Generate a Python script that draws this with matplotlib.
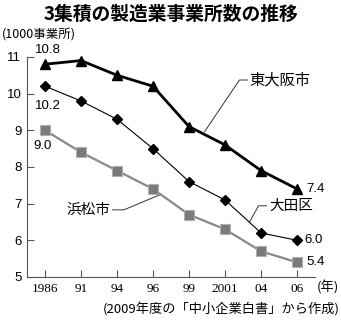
import matplotlib
matplotlib.use("Agg")
import matplotlib.pyplot as plt

plt.rcParams['font.family'] = ['Noto Sans CJK JP', 'DejaVu Sans']

years = ['1986', '91', '94', '96', '99', '2001', '04', '06']
higashiosaka = [10.8, 10.9, 10.5, 10.2, 9.1, 8.6, 7.9, 7.4]
ota = [10.2, 9.8, 9.3, 8.5, 7.6, 7.1, 6.2, 6.0]
hamamatsu = [9.0, 8.4, 7.9, 7.4, 6.7, 6.3, 5.7, 5.4]
yticks = [5, 6, 7, 8, 9, 10, 11]

x = list(range(len(years)))

fig = plt.figure(figsize=(3.41, 3.27), dpi=100)
ax = fig.add_axes([0.079, 0.153, 0.845, 0.673])

ax.plot(x, hamamatsu, color='#888888', lw=1.6, marker='s', ms=7.5,
        mfc='#7a7a7a', mec='#b0b0b0', mew=0.8, clip_on=False, zorder=3)
ax.plot(x, ota, color='black', lw=0.8, marker='D', ms=5.5,
        mfc='black', mec='black', clip_on=False, zorder=4)
ax.plot(x, higashiosaka, color='black', lw=2.0, marker='^', ms=7.5,
        mfc='black', mec='black', clip_on=False, zorder=5)

ax.set_xlim(-0.5, 7.5)
ax.set_ylim(5, 11)
ax.set_xticks(x)
ax.set_xticklabels(years, family='Liberation Serif', fontsize=9.5)
ax.set_yticks(yticks)
ax.set_yticklabels([str(v) for v in yticks], family='Liberation Sans', fontsize=9.5)
ax.tick_params(axis='both', direction='in', length=5, width=0.8, color='#555555')
ax.tick_params(axis='y', pad=4)
ax.tick_params(axis='x', pad=4)
for s in ['top', 'right']:
    ax.spines[s].set_visible(False)
for s in ['left', 'bottom']:
    ax.spines[s].set_color('#555555')
    ax.spines[s].set_linewidth(0.8)

# start / end value labels
lab = dict(family='Liberation Sans', fontsize=9.5, va='center')
ax.annotate(f'{higashiosaka[0]:.1f}', (x[0], higashiosaka[0]), xytext=(-7, 10),
            textcoords='offset points', ha='left', **lab)
ax.annotate(f'{ota[0]:.1f}', (x[0], ota[0]), xytext=(-7, -14),
            textcoords='offset points', ha='left', **lab)
ax.annotate(f'{hamamatsu[0]:.1f}', (x[0], hamamatsu[0]), xytext=(-8, -11),
            textcoords='offset points', ha='left', **lab)
ax.annotate(f'{higashiosaka[-1]:.1f}', (x[-1], higashiosaka[-1]), xytext=(7, 0),
            textcoords='offset points', ha='left', **lab)
ax.annotate(f'{ota[-1]:.1f}', (x[-1], ota[-1]), xytext=(5, 0),
            textcoords='offset points', ha='left', **lab)
ax.annotate(f'{hamamatsu[-1]:.1f}', (x[-1], hamamatsu[-1]), xytext=(7, 0),
            textcoords='offset points', ha='left', **lab)

# series names with leader lines
ln = dict(color='#333333', lw=0.7)
ax.plot([4.43, 5.40, 5.62], [8.96, 10.37, 10.37], clip_on=False, **ln)
ax.text(5.68, 10.37, '東大阪市', fontsize=11, va='center', ha='left')
ax.plot([5.68, 5.93, 6.15], [6.50, 6.94, 6.94], clip_on=False, **ln)
ax.text(6.23, 6.94, '大田区', fontsize=10.5, va='center', ha='left')
ax.plot([3.19, 2.19, 1.88], [7.24, 6.83, 6.83], clip_on=False, **ln)
ax.text(1.83, 6.83, '浜松市', fontsize=10.5, va='center', ha='right')

fig.text(0.5, 0.955, '3集積の製造業事業所数の推移', fontsize=13.5, fontweight='bold',
         ha='center', va='center')
fig.text(0.006, 0.893, '(1000事業所)', fontsize=9, ha='left', va='center')
fig.text(0.93, 0.122, '(年)', fontsize=9.5, ha='left', va='center')
fig.text(0.995, 0.052, '(2009年度の「中小企業白書」から作成)', fontsize=9.5,
         ha='right', va='center')

fig.savefig('out.png', dpi=100)
